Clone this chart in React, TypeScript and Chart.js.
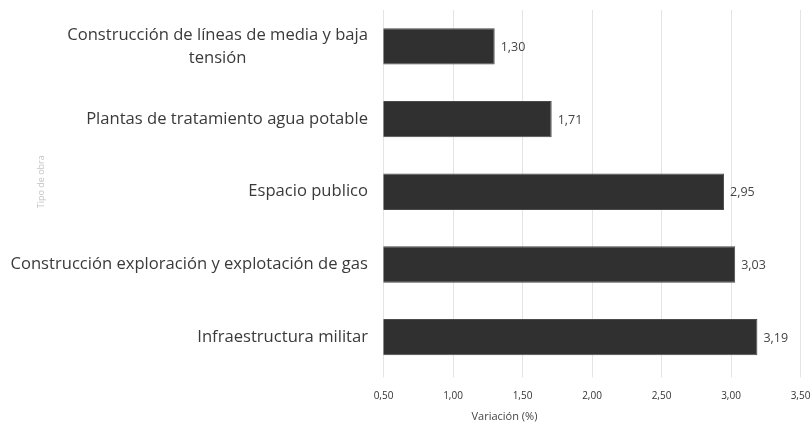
import React, { useEffect, useRef } from "react";
import { Chart, registerables } from "chart.js";

Chart.register(...registerables);

const categories: string[][] = [
  ["Construcción de líneas de media y baja", "tensión"],
  ["Plantas de tratamiento agua potable"],
  ["Espacio publico"],
  ["Construcción exploración y explotación de gas"],
  ["Infraestructura militar"],
];
const values: number[] = [1.3, 1.71, 2.95, 3.03, 3.19];
const xTitle = "Variación (%)";
const yTitle = "Tipo de obra";

const fmt = (v: number) => v.toFixed(2).replace(".", ",");
const LABEL_FONT = "16.6px 'Open Sans'";

const drawPlugin = {
  id: "customText",
  afterDraw(chart: any) {
    const ctx = chart.ctx as CanvasRenderingContext2D;
    const y = chart.scales.y;
    const x = chart.scales.x;
    const area = chart.chartArea;
    ctx.save();
    // category labels
    ctx.font = LABEL_FONT;
    ctx.fillStyle = "#3a3a3a";
    ctx.textBaseline = "middle";
    const rightEdge = area.left - 15.5;
    categories.forEach((lines, i) => {
      const cy = y.getPixelForTick(i);
      const widths = lines.map((l) => ctx.measureText(l).width);
      const bw = Math.max(...widths);
      const lh = 23;
      const startY = cy - ((lines.length - 1) * lh) / 2;
      lines.forEach((l, j) => {
        ctx.textAlign = "center";
        ctx.fillText(l, rightEdge - bw / 2, startY + j * lh);
      });
    });
    // value labels
    ctx.font = "12.5px 'Open Sans'";
    ctx.fillStyle = "#444";
    ctx.textAlign = "left";
    const meta = chart.getDatasetMeta(0);
    meta.data.forEach((bar: any, i: number) => {
      ctx.fillText(fmt(values[i]), bar.x + 6, bar.y + 1);
    });
    // x title
    ctx.font = "11px 'Open Sans'";
    ctx.fillStyle = "#444";
    ctx.textAlign = "left";
    ctx.fillText(xTitle, x.getPixelForValue(0.5) + 88, 417);
    // y title
    ctx.translate(41, (area.top + area.bottom) / 2 - 10);
    ctx.rotate(-Math.PI / 2);
    ctx.font = "9px 'Open Sans'";
    ctx.fillStyle = "#c4c4c4";
    ctx.textAlign = "center";
    ctx.fillText(yTitle, 0, 0);
    ctx.restore();
  },
};

export default function App() {
  const ref = useRef<HTMLCanvasElement | null>(null);
  useEffect(() => {
    document.body.style.margin = "0";
    if (!ref.current) return;
    const chart = new Chart(ref.current, {
      type: "bar",
      data: {
        labels: categories.map((c) => c.join(" ")),
        datasets: [
          {
            data: values,
            backgroundColor: "#303030",
            borderColor: "#4a4a4a",
            borderWidth: 1,
            barPercentage: 0.5,
            categoryPercentage: 1,
          },
        ],
      },
      options: {
        indexAxis: "y",
        animation: false,
        responsive: false,
        devicePixelRatio: 1,
        layout: { padding: { top: 10, right: 11.5, left: 0, bottom: 0 } },
        plugins: { legend: { display: false }, tooltip: { enabled: false } },
        scales: {
          x: {
            min: 0.5,
            max: 3.5,
            ticks: {
              stepSize: 0.5,
              padding: 12.5,
              color: "#333",
              font: { family: "'Open Sans'", size: 10 },
              callback: (v: any) => fmt(Number(v)),
            },
            grid: { color: "#e4e4e4", tickLength: 4, drawTicks: true },
            border: { display: false },
            afterFit: (s: any) => {
              s.height = 49.5;
              s.paddingLeft = 0;
              s.paddingRight = 0;
            },
          },
          y: {
            ticks: { display: false },
            grid: { display: false, drawTicks: false },
            border: { display: false },
            afterFit: (s: any) => {
              s.width = 383.5;
            },
          },
        },
      },
      plugins: [drawPlugin],
    });
    return () => chart.destroy();
  }, []);
  return <canvas ref={ref} width={812} height={423} style={{ display: "block" }} />;
}
